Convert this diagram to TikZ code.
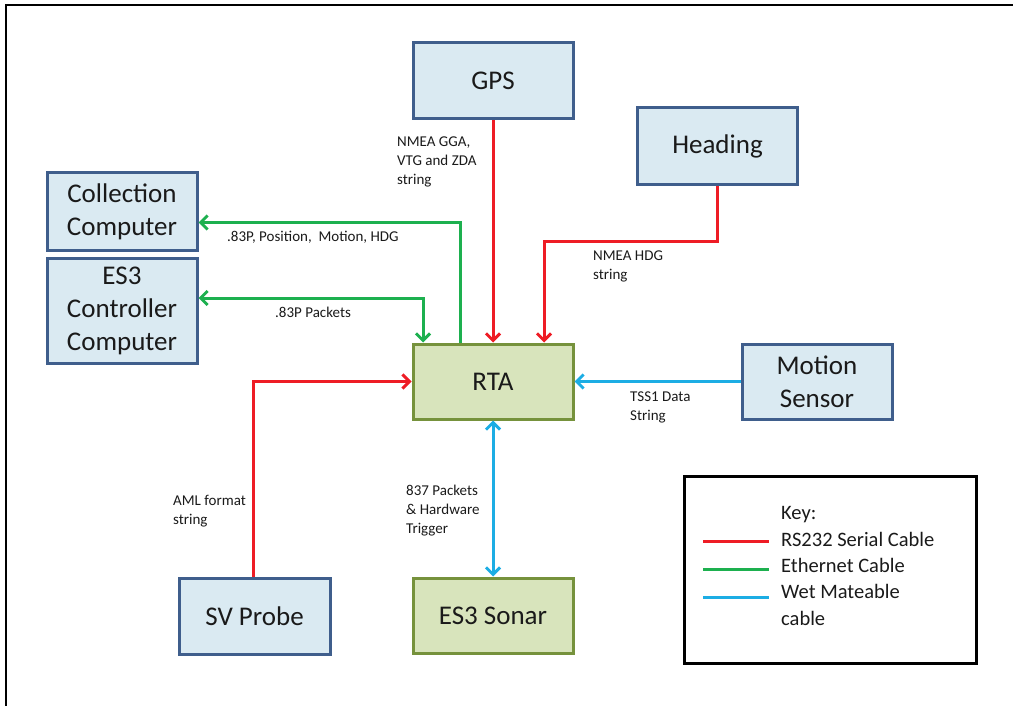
\documentclass[tikz,border=0pt]{standalone}
\usepackage{fontspec}
\setmainfont{Carlito}
\usetikzlibrary{arrows.meta,calc}
\definecolor{bfill}{HTML}{DAEAF2}
\definecolor{bdraw}{HTML}{3F5E8C}
\definecolor{gfill}{HTML}{D8E4BC}
\definecolor{gdraw}{HTML}{76923C}
\definecolor{cred}{HTML}{EE1C25}
\definecolor{cgreen}{HTML}{1DB04F}
\definecolor{cblue}{HTML}{1CADE4}
\definecolor{txt}{HTML}{1A1A1A}
\tikzset{
  box/.style={draw, line width=3pt, inner sep=0pt, align=center, text=txt,
    font=\fontsize{27}{33}\selectfont},
  bluebox/.style={box, fill=bfill, draw=bdraw},
  greenbox/.style={box, fill=gfill, draw=gdraw},
  lbl/.style={anchor=base west, inner sep=0pt, align=left, text=txt,
    font=\fontsize{15}{19}\selectfont},
  tip/.style={-{Straight Barb[length=7pt,width=14pt,line width=3pt]}},
  tips/.style={{Straight Barb[length=7pt,width=14pt,line width=3pt]}-{Straight Barb[length=7pt,width=14pt,line width=3pt]}},
  redl/.style={draw=cred, line width=3pt},
  greenl/.style={draw=cgreen, line width=3pt},
  bluel/.style={draw=cblue, line width=3pt},
}
\begin{document}
\begin{tikzpicture}[x=1pt,y=-1pt]
\useasboundingbox (0,0) rectangle (1013,706);
% outer frame
\draw[line width=2.5pt, line cap=rect] (6,710) -- (6,5) -- (1020,5);
% boxes
\node[bluebox, minimum width=160pt, minimum height=76pt] (gps) at (493,81) {GPS};
\node[bluebox, minimum width=160pt, minimum height=77pt] (heading) at (717.5,146.5) {Heading};
\node[bluebox, minimum width=150pt, minimum height=77pt] (coll) at (122,211.5) {Collection\\Computer};
\node[bluebox, minimum width=150pt, minimum height=105pt] (ctrl) at (122,310.5) {ES3\\Controller\\Computer};
\node[greenbox, minimum width=160pt, minimum height=75pt] (rta) at (493,381.5) {RTA};
\node[bluebox, minimum width=150pt, minimum height=75pt] (motion) at (817,381.5) {Motion\\Sensor};
\node[bluebox, minimum width=151pt, minimum height=76pt] (sv) at (254.5,616) {SV Probe};
\node[greenbox, minimum width=160pt, minimum height=75pt] (sonar) at (493,615.5) {ES3 Sonar};
% connectors
\draw[redl, tip] (gps.south) -- (rta.north);
\draw[redl, tip, line join=miter] (heading.south) -- ++(0,55) -| ($(rta.north)+(51,0)$);
\draw[greenl, tip, line join=miter] ($(rta.north)+(-33,0)$) |- ($(coll.east)+(0,11)$);
\draw[greenl, tips, line join=miter] ($(ctrl.east)+(0,-12.5)$) -| ($(rta.north)+(-70,0)$);
\draw[redl, tip, line join=miter] ($(sv.north)+(-1.5,0)$) |- (rta.west);
\draw[bluel, tip] (motion.west) -- (rta.east);
\draw[bluel, tips] (rta.south) -- (sonar.north);
% labels (anchor is the baseline of the last line)
\node[lbl] (l1) at (397,185) {NMEA GGA,\\VTG and ZDA\\string};
\node[lbl] (l2) at (593,279) {NMEA HDG\\string};
\node[lbl] (l3) at (227,241) {.83P, Position,\ \ Motion, HDG};
\node[lbl] (l4) at (275,317) {.83P Packets};
\node[lbl] (l5) at (630,420) {TSS1 Data\\String};
\node[lbl] (l6) at (173,524) {AML format\\string};
\node[lbl] (l7) at (406,533) {837 Packets\\\& Hardware\\Trigger};
% key
\node[draw, line width=3pt, minimum width=292pt, minimum height=187pt, inner sep=0pt] (key) at (830,569.5) {};
\draw[redl] (703,541) -- (769,541);
\draw[greenl] (703,569) -- (769,569);
\draw[bluel] (703,597) -- (769,597);
\node[lbl, font=\fontsize{20.5}{26.3}\selectfont] (keytxt) at (781,625) {Key:\\RS232 Serial Cable\\Ethernet Cable\\Wet Mateable\\cable};
\end{tikzpicture}
\end{document}
